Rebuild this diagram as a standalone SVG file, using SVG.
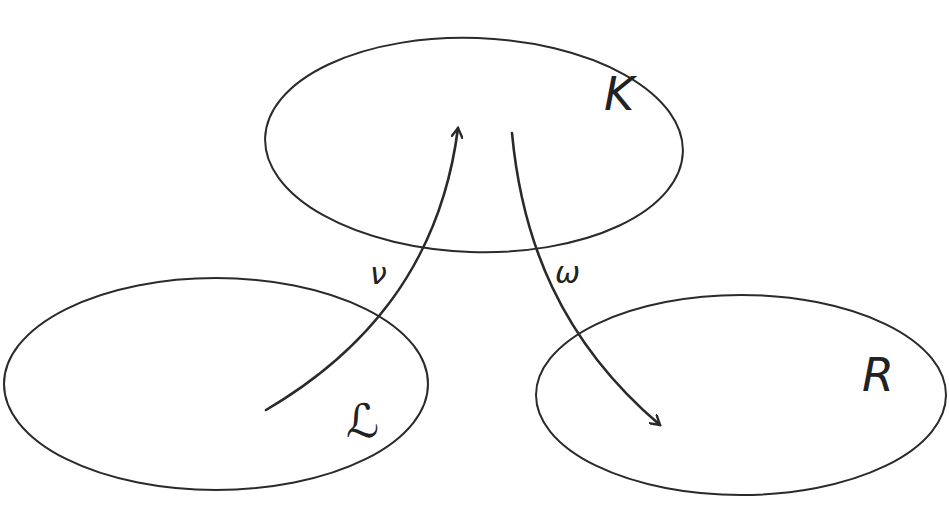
<svg xmlns="http://www.w3.org/2000/svg" width="949" height="525" viewBox="0 0 949 525">
<style>
.set{fill:none;stroke:#2a2a2a;stroke-width:2}
.arr{fill:none;stroke:#2a2a2a;stroke-width:2.6;stroke-linecap:round}
.lbl{font-family:"DejaVu Sans","Liberation Sans",sans-serif;font-style:italic;fill:#222}
</style>
<defs>
<marker id="ah" markerWidth="12" markerHeight="12" refX="10" refY="6" orient="auto" markerUnits="userSpaceOnUse" viewBox="0 0 12 12">
<path d="M0,0 L10,6 L0,12" fill="none" stroke="#2a2a2a" stroke-width="2.4" stroke-linecap="round"/>
</marker>
</defs>
<rect width="949" height="525" fill="#fff"/>
<g id="K">
<ellipse class="set" cx="474" cy="145" rx="209" ry="107" transform="rotate(2 474 145)"/>
<text class="lbl" x="604" y="110" font-size="46">K</text>
</g>
<g id="L">
<ellipse class="set" cx="216" cy="384" rx="212" ry="106"/>
<text class="lbl" x="346" y="437" font-size="46">ℒ</text>
</g>
<g id="R">
<ellipse class="set" cx="741" cy="395" rx="205" ry="100"/>
<text class="lbl" x="862" y="391" font-size="46">R</text>
</g>
<g id="connectors">
<path class="arr" d="M266,410 C360,355 440,270 458,128" marker-end="url(#ah)"/>
<path class="arr" d="M512,133 C522,240 560,340 660,425" marker-end="url(#ah)"/>
<text class="lbl" x="370" y="284" font-size="30">ν</text>
<text class="lbl" x="555" y="283" font-size="30">ω</text>
</g>
</svg>
